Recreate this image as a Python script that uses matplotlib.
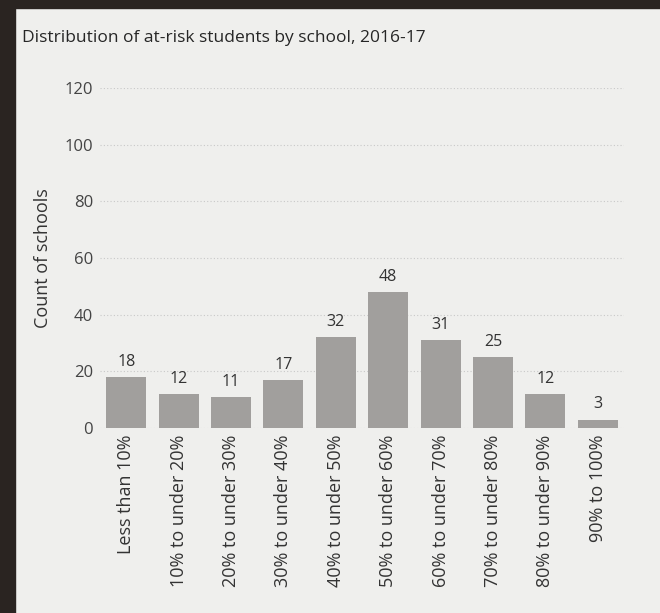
import matplotlib
matplotlib.use("Agg")
import matplotlib.pyplot as plt
from matplotlib.patches import Rectangle

categories = ["Less than 10%", "10% to under 20%", "20% to under 30%", "30% to under 40%",
              "40% to under 50%", "50% to under 60%", "60% to under 70%", "70% to under 80%",
              "80% to under 90%", "90% to 100%"]
counts = [18, 12, 11, 17, 32, 48, 31, 25, 12, 3]
y_ticks = [0, 20, 40, 60, 80, 100, 120]

plt.rcParams['font.family'] = ['Open Sans', 'DejaVu Sans']

fig = plt.figure(figsize=(6.6, 6.13), dpi=100)
bg = '#efefed'
fig.patch.set_facecolor(bg)

# photo frame (dark edges)
fig.patches.append(Rectangle((0, 0), 15/660, 1, transform=fig.transFigure, color='#2a2421', zorder=0))
fig.patches.append(Rectangle((0, 1 - 8/613), 1, 8/613, transform=fig.transFigure, color='#2a2421', zorder=0))

ax = fig.add_axes([100/660, (613-428)/613, 524/660, 340/613])
ax.set_facecolor(bg)
x = range(len(categories))
ax.bar(x, counts, width=0.76, color='#a19f9d', zorder=2)
for xi, v in zip(x, counts):
    ax.text(xi, v + 2.5, str(v), ha='center', va='bottom', fontsize=11.5, color='#333333')

ax.set_xlim(-0.5, len(categories) - 0.5)
ax.set_ylim(0, 120)
ax.set_yticks(y_ticks)
ax.set_yticklabels([str(t) for t in y_ticks], fontsize=12, color='#444444')
ax.set_xticks(list(x))
ax.set_xticklabels(categories, rotation=90, fontsize=13, color='#333333')
ax.tick_params(length=0, pad=5)
ax.grid(axis='y', linestyle=(0, (1, 2)), color='#c8c8c8', linewidth=0.8, zorder=1)
for s in ax.spines.values():
    s.set_visible(False)
ax.set_ylabel('Count of schools', fontsize=13, color='#333333', labelpad=9)

fig.text(22/660, 1 - 38/613, 'Distribution of at-risk students by school, 2016-17',
         fontsize=12.5, color='#262626', ha='left', va='center')

fig.savefig('out.png', dpi=100, facecolor=fig.get_facecolor())
